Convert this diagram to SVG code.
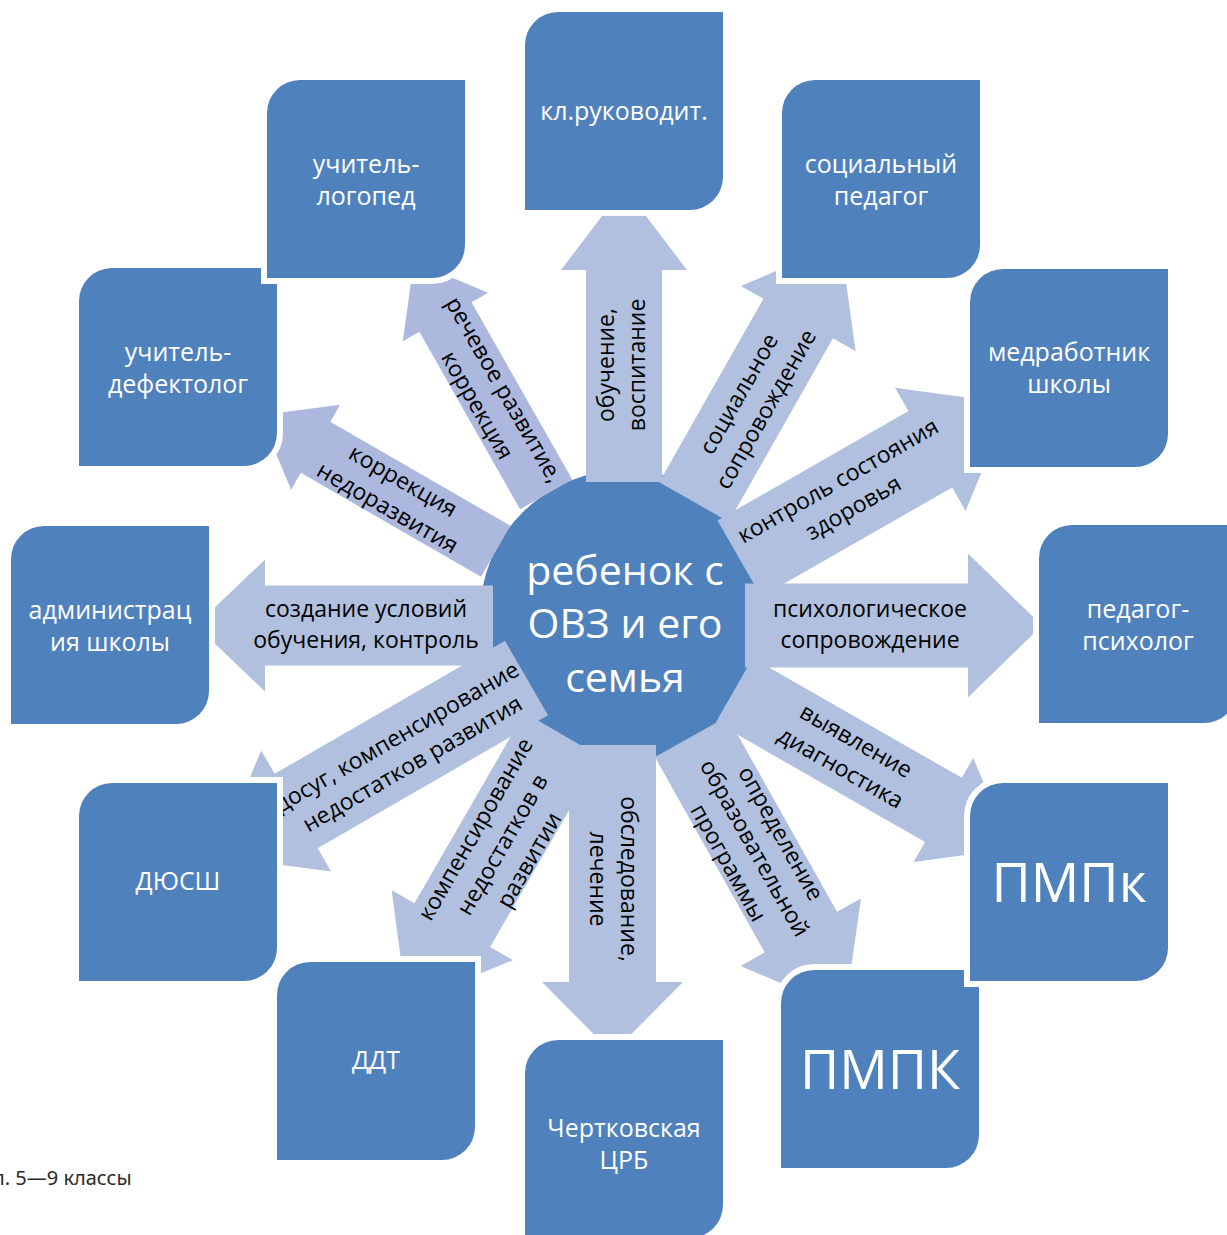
<svg xmlns="http://www.w3.org/2000/svg" xmlns:xlink="http://www.w3.org/1999/xlink" width="1227" height="1235" viewBox="0 0 1227 1235">
<style>
.bx{fill:#4F81BD;stroke:#FFFFFF;stroke-width:12;paint-order:stroke}
.bt{font-family:"Open Sans","Noto Sans",sans-serif;font-size:25px;fill:#FFFFFF;text-anchor:middle}
.big{font-size:54px}
.ct{font-family:"Open Sans","Noto Sans",sans-serif;font-size:41px;fill:#FFFFFF;text-anchor:middle}
.ar{fill:#B0C0DE}
.ap{fill:#ADB8DE}
.at{font-family:"Open Sans","Noto Sans",sans-serif;font-size:23px;fill:#000000;text-anchor:middle}
.note{font-family:"Noto Sans","Open Sans",sans-serif;font-size:20px;fill:#2a2a2a}
</style>
<defs>
<path id="box" d="M33,0 H198 V165 A33,33 0 0 1 165,198 H0 V33 A33,33 0 0 1 33,0 Z"/>
</defs>
<rect width="1227" height="1235" fill="#FFFFFF"/>

<g id="center-circle">
<circle cx="625" cy="615" r="145" fill="#4F81BD"/>
</g>

<g id="connectors">
<g id="c-rech">
<polygon class="ap" transform="translate(546.2,494.4) rotate(-119.6)" points="0,-30 204,-30 204,-49 268,0 204,49 204,30 0,30"/>
<text class="at" transform="translate(490,398) rotate(60)"><tspan x="0" y="-8.5">речевое развитие,</tspan><tspan x="0" y="22.5">коррекция</tspan></text>
</g>
<g id="c-korr">
<polygon class="ap" transform="translate(495.7,551.3) rotate(-150)" points="0,-29.5 208,-29.5 208,-49 272,0 208,49 208,29.5 0,29.5"/>
<text class="at" transform="translate(395,495) rotate(30)"><tspan x="0" y="-8.5">коррекция</tspan><tspan x="0" y="22.5">недоразвития</tspan></text>
</g>
<g id="c-opred">
<polygon class="ar" transform="translate(691.2,736.8) rotate(60.7)" points="0,-41.5 224,-41.5 224,-69 314,0 224,69 224,41.5 0,41.5"/>
<text class="at" transform="translate(753,849) rotate(60.7)"><tspan x="0" y="-24">определение</tspan><tspan x="0" y="6">образовательной</tspan><tspan x="0" y="36">программы</tspan></text>
</g>
<g id="c-komp">
<polygon class="ar" transform="translate(562.3,734.6) rotate(120)" points="0,-43.7 220,-43.7 220,-70 311,0 220,70 220,43.7 0,43.7"/>
<text class="at" transform="translate(503,845) rotate(-60)"><tspan x="0" y="-24">компенсирование</tspan><tspan x="0" y="7">недостатков в</tspan><tspan x="0" y="38">развитии</tspan></text>
</g>
<g id="c-dosug">
<polygon class="ar" transform="translate(526.5,678) rotate(150)" points="0,-43 266,-43 266,-70 357,0 266,70 266,43 0,43"/>
<text class="at" transform="translate(405,751) rotate(-30)"><tspan x="0" y="-8.5">досуг, компенсирование</tspan><tspan x="0" y="22.5">недостатков развития</tspan></text>
</g>
<g id="c-soc">
<polygon class="ar" transform="translate(694,502) rotate(-60.4)" points="0,-40 211,-40 211,-66 297,0 211,66 211,40 0,40"/>
<text class="at" transform="translate(753,402) rotate(-60.4)"><tspan x="0" y="-8.5">социальное</tspan><tspan x="0" y="22.5">сопровождение</tspan></text>
</g>
<g id="c-kontr">
<polygon class="ar" transform="translate(739.4,558.6) rotate(-29.8)" points="0,-44 220,-44 220,-71 312,0 220,71 220,44 0,44"/>
<text class="at" transform="translate(846,495) rotate(-29.8)"><tspan x="0" y="-8.5">контроль состояния</tspan><tspan x="0" y="22.5">здоровья</tspan></text>
</g>
<g id="c-vyyav">
<polygon class="ar" transform="translate(734.3,690.2) rotate(29.8)" points="0,-37 241,-37 241,-60 319,0 241,60 241,37 0,37"/>
<text class="at" transform="translate(848,755) rotate(29.8)"><tspan x="0" y="-8.5">выявление</tspan><tspan x="0" y="22.5">диагностика</tspan></text>
</g>
<g id="c-obuch">
<polygon class="ar" transform="translate(624,482) rotate(-90)" points="0,-38 212,-38 212,-63 295,0 212,63 212,38 0,38"/>
<text class="at" transform="translate(622.5,365) rotate(-90)"><tspan x="0" y="-8.5">обучение,</tspan><tspan x="0" y="22.5">воспитание</tspan></text>
</g>
<g id="c-obsl">
<polygon class="ar" transform="translate(612.5,745) rotate(90)" points="0,-43.5 237,-43.5 237,-70.5 308,0 237,70.5 237,43.5 0,43.5"/>
<text class="at" transform="translate(612,879) rotate(90)"><tspan x="0" y="-8.5">обследование,</tspan><tspan x="0" y="22.5">лечение</tspan></text>
</g>
<g id="c-sozd">
<polygon class="ar" transform="translate(493,625.5) rotate(180)" points="0,-40 228,-40 228,-66 297,0 228,66 228,40 0,40"/>
<text class="at"><tspan x="366" y="617">создание условий</tspan><tspan x="366" y="648">обучения, контроль</tspan></text>
</g>
<g id="c-psych">
<polygon class="ar" transform="translate(745,625.5)" points="0,-42 223,-42 223,-72 297,0 223,72 223,42 0,42"/>
<text class="at"><tspan x="870" y="617">психологическое</tspan><tspan x="870" y="648">сопровождение</tspan></text>
</g>
</g>

<g id="n-defekt"><use xlink:href="#box" class="bx" x="79" y="268"/><text class="bt"><tspan x="178" y="361">учитель-</tspan><tspan x="178" y="393">дефектолог</tspan></text></g>
<g id="n-logoped"><use xlink:href="#box" class="bx" x="267" y="80"/><text class="bt"><tspan x="366" y="173">учитель-</tspan><tspan x="366" y="205">логопед</tspan></text></g>
<g id="n-klruk"><use xlink:href="#box" class="bx" x="525" y="12"/><text class="bt" x="624" y="120">кл.руководит.</text></g>
<g id="n-medrab"><use xlink:href="#box" class="bx" x="970" y="269"/><text class="bt"><tspan x="1069" y="361">медработник</tspan><tspan x="1069" y="393">школы</tspan></text></g>
<g id="n-socped"><use xlink:href="#box" class="bx" x="782" y="80"/><text class="bt"><tspan x="881" y="173">социальный</tspan><tspan x="881" y="205">педагог</tspan></text></g>
<g id="n-admin"><use xlink:href="#box" class="bx" x="11" y="526"/><text class="bt"><tspan x="110" y="619">администрац</tspan><tspan x="110" y="651">ия школы</tspan></text></g>
<g id="n-psych"><use xlink:href="#box" class="bx" x="1039" y="525"/><text class="bt"><tspan x="1138" y="618">педагог-</tspan><tspan x="1138" y="650">психолог</tspan></text></g>
<g id="n-dyussh"><use xlink:href="#box" class="bx" x="79" y="783"/><text class="bt" x="178" y="890">ДЮСШ</text></g>
<g id="n-ddt"><use xlink:href="#box" class="bx" x="277" y="962"/><text class="bt" x="376" y="1069">ДДТ</text></g>
<g id="n-crb"><use xlink:href="#box" class="bx" x="525" y="1040"/><text class="bt"><tspan x="624" y="1137">Чертковская</tspan><tspan x="624" y="1169">ЦРБ</tspan></text></g>
<g id="n-pmpk2"><use xlink:href="#box" class="bx" x="781" y="970"/><text class="bt big" x="880" y="1089">ПМПК</text></g>
<g id="n-pmpk1"><use xlink:href="#box" class="bx" x="970" y="783"/><text class="bt big" x="1069" y="902">ПМПк</text></g>

<g id="center-text">
<text class="ct"><tspan x="625" y="585">ребенок с</tspan><tspan x="625" y="638">ОВЗ и его</tspan><tspan x="625" y="692">семья</tspan></text>
</g>

<text class="note" x="-7" y="1185">л. 5—9 классы</text>
</svg>
